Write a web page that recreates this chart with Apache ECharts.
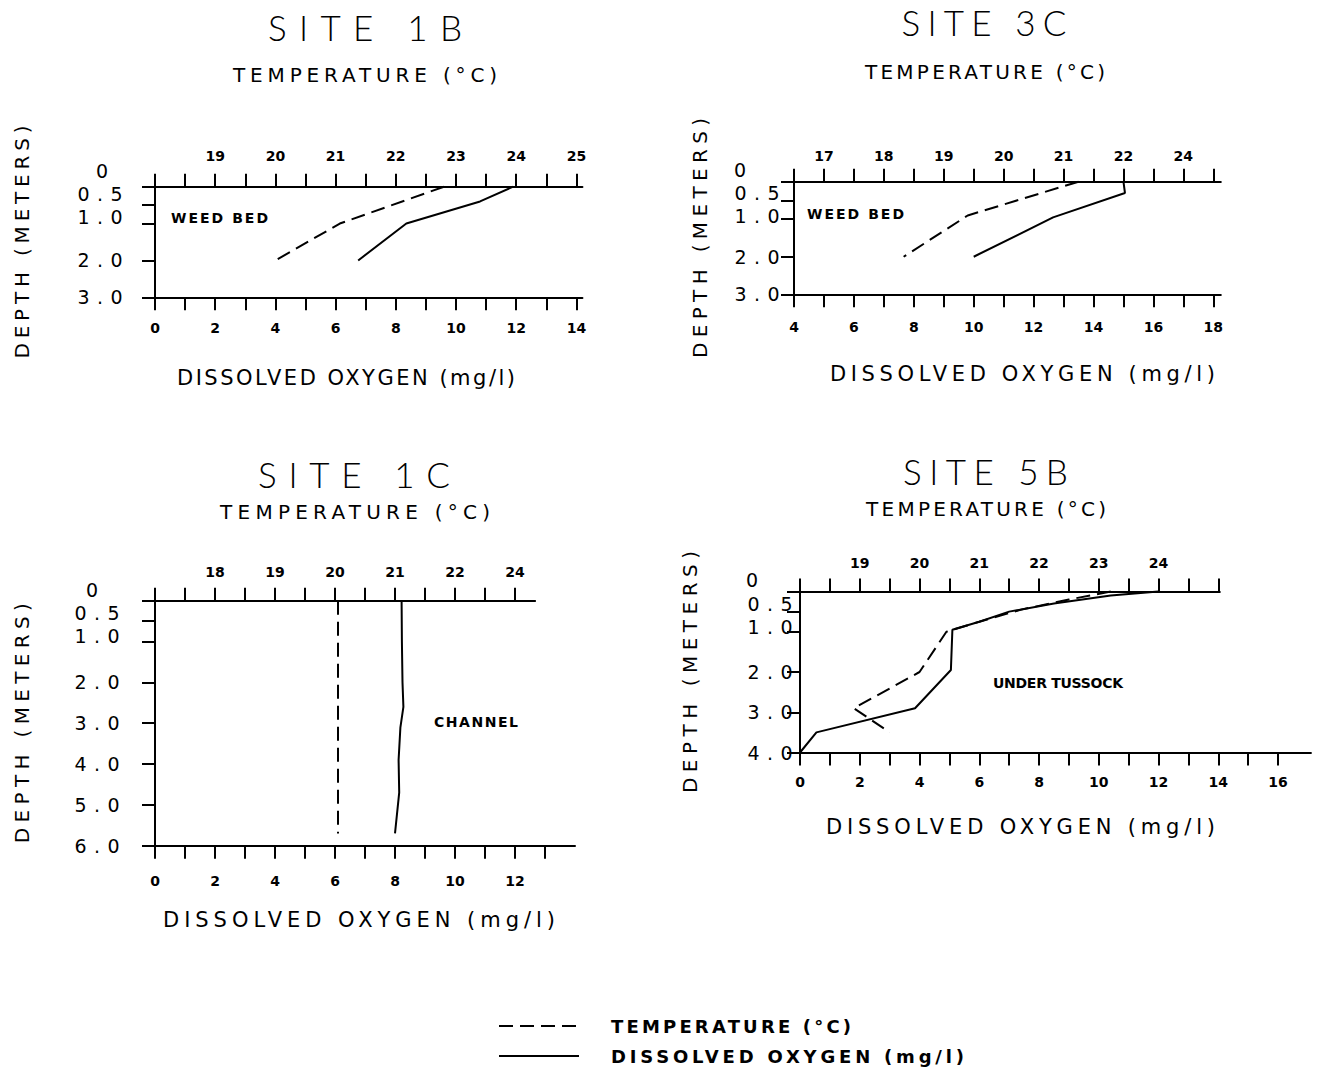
<!DOCTYPE html>
<html>
<head>
<meta charset="utf-8">
<title>Temperature and dissolved oxygen profiles</title>
<script src="https://cdn.jsdelivr.net/npm/echarts@6.0.0/dist/echarts.min.js"></script>
<style>
html,body{margin:0;padding:0;background:#ffffff;}
#chart{width:1319px;height:1078px;}
</style>
</head>
<body>
<div id="chart"></div>
<script>
// ================= DATA =================
// Site 1B
const site1B_tempDepth = [0, 1.0, 2.0];
const site1B_temp = [22.8, 21.07, 20.0];
const site1B_doDepth = [0, 0.4, 1.0, 2.0];
const site1B_do = [11.9, 10.8, 8.35, 6.75];
const site1B_tempTickValues = [19, 20, 21, 22, 23, 24, 25];
const site1B_tempTickLabels = ['19', '20', '21', '22', '23', '24', '25'];
const site1B_doTickLabels = [0, 2, 4, 6, 8, 10, 12, 14];
const site1B_depthTicks = [0, 0.5, 1, 2, 3];

// Site 3C
const site3C_tempDepth = [0, 0.9, 2.0];
const site3C_temp = [21.25, 19.4, 18.33];
const site3C_doDepth = [0, 0.3, 0.95, 2.0];
const site3C_do = [15.0, 15.05, 12.65, 10.0];
const site3C_tempTickValues = [17, 18, 19, 20, 21, 22, 23];
const site3C_tempTickLabels = ['17', '18', '19', '20', '21', '22', '24'];
const site3C_doTickLabels = [4, 6, 8, 10, 12, 14, 16, 18];
const site3C_depthTicks = [0, 0.5, 1, 2, 3];

// Site 1C
const site1C_tempDepth = [0, 5.7];
const site1C_temp = [20.05, 20.05];
const site1C_doDepth = [0, 1.0, 2.0, 2.6, 3.1, 3.9, 4.7, 5.7];
const site1C_do = [8.22, 8.23, 8.25, 8.28, 8.18, 8.12, 8.14, 8.0];
const site1C_tempTickValues = [18, 19, 20, 21, 22, 23];
const site1C_tempTickLabels = ['18', '19', '20', '21', '22', '24'];
const site1C_doTickLabels = [0, 2, 4, 6, 8, 10, 12];
const site1C_depthTicks = [0, 0.5, 1, 2, 3, 4, 5, 6];

// Site 5B
const site5B_tempDepth = [0, 0.2, 0.45, 0.75, 1.0, 2.0, 2.9, 3.5];
const site5B_temp = [23.2, 22.5, 21.7, 21.0, 20.45, 20.0, 18.9, 19.5];
const site5B_doDepth = [0, 0.1, 0.3, 0.5, 0.75, 0.95, 1.95, 2.9, 3.5, 4.0];
const site5B_do = [12.0, 10.4, 8.5, 7.0, 6.0, 5.1, 5.05, 3.85, 0.55, 0.0];
const site5B_tempTickValues = [19, 20, 21, 22, 23, 24];
const site5B_tempTickLabels = ['19', '20', '21', '22', '23', '24'];
const site5B_doTickLabels = [0, 2, 4, 6, 8, 10, 12, 14, 16];
const site5B_depthTicks = [0, 0.5, 1, 2, 3, 4];

const TEMP_NAME = 'TEMPERATURE (°C)';
const DO_NAME = 'DISSOLVED OXYGEN (mg/l)';
const DEPTH_NAME = 'DEPTH (METERS)';

// ================= LAYOUT (positions / sizes) =================
const layout1B = {left:155, top:186.7, height:110.6, ppu:30.1, doMin:0, doMaxTop:14.2, doMaxBottom:14.2, doTickMax:14,
  tempMin:18, tempTickMax:25, depthMax:3, yLabelMargin:55, lift:{z:15.7, zdx:2, h05:11, h10:6.6},
  topLabelMargin:23.7, bottomLabelMargin:23.7, depthNameGap:123, tempNameGap:101.7, tempNameShift:-3.7,
  doNameGap:69.7, doNameShift:-22.7, titleXY:[365,27], noteXY:[219.5,218],
  widths:{title:194, temp:264, dox:338, depth:233, note:97}};
const layout3C = {left:794, top:181.7, height:112.6, ppu:29.95, doMin:4, doMaxTop:18.25, doMaxBottom:18.25, doTickMax:18,
  tempMin:16.5, tempTickMax:23.5, depthMax:3, yLabelMargin:37, lift:{z:11.7, zdx:-17, h05:7.5, h10:3.2},
  topLabelMargin:18.7, bottomLabelMargin:25.7, depthNameGap:84, tempNameGap:99.7, tempNameShift:-22.4,
  doNameGap:68.7, doNameShift:15, titleXY:[984,22], noteXY:[855.5,214],
  widths:{title:165, temp:240, dox:385, depth:240, note:97}};
const layout1C = {left:155, top:600.7, height:245, ppu:30.0, doMin:0, doMaxTop:12.67, doMaxBottom:14.0, doTickMax:13,
  tempMin:17, tempTickMax:23, depthMax:6, yLabelMargin:58, lift:{z:10.7, zdx:-5, h05:8.1, h10:5.5},
  topLabelMargin:21.7, bottomLabelMargin:28.3, depthNameGap:123, tempNameGap:78.7, tempNameShift:10,
  doNameGap:63.3, doNameShift:-6, titleXY:[354,474], noteXY:[476,722],
  widths:{title:192, temp:270, dox:392, depth:240, note:84}};
const layout5B = {left:800, top:591.5, height:161, ppu:29.88, doMin:0, doMaxTop:14.05, doMaxBottom:17.1, doTickMax:16,
  tempMin:18, tempTickMax:25, depthMax:4, yLabelMargin:30, lift:{z:11.5, zdx:-18, h05:8.1, h10:4.75},
  topLabelMargin:21.5, bottomLabelMargin:22, depthNameGap:100, tempNameGap:72.5, tempNameShift:-23.9,
  doNameGap:63.5, doNameShift:-35, titleXY:[985.5,471], noteXY:[1058,683],
  widths:{title:165, temp:240, dox:389, depth:242, note:130}};

const panels = [
  {title:'SITE 1B', note:'WEED BED', tempDepth:site1B_tempDepth, temp:site1B_temp, doDepth:site1B_doDepth, dox:site1B_do,
   tempTickValues:site1B_tempTickValues, tempTickLabels:site1B_tempTickLabels, doTickLabels:site1B_doTickLabels, depthTicks:site1B_depthTicks, L:layout1B},
  {title:'SITE 3C', note:'WEED BED', tempDepth:site3C_tempDepth, temp:site3C_temp, doDepth:site3C_doDepth, dox:site3C_do,
   tempTickValues:site3C_tempTickValues, tempTickLabels:site3C_tempTickLabels, doTickLabels:site3C_doTickLabels, depthTicks:site3C_depthTicks, L:layout3C},
  {title:'SITE 1C', note:'CHANNEL', tempDepth:site1C_tempDepth, temp:site1C_temp, doDepth:site1C_doDepth, dox:site1C_do,
   tempTickValues:site1C_tempTickValues, tempTickLabels:site1C_tempTickLabels, doTickLabels:site1C_doTickLabels, depthTicks:site1C_depthTicks, L:layout1C},
  {title:'SITE 5B', note:'UNDER TUSSOCK', tempDepth:site5B_tempDepth, temp:site5B_temp, doDepth:site5B_doDepth, dox:site5B_do,
   tempTickValues:site5B_tempTickValues, tempTickLabels:site5B_tempTickLabels, doTickLabels:site5B_doTickLabels, depthTicks:site5B_depthTicks, L:layout5B}
];

const FONT = "'DejaVu Sans', 'Liberation Sans', sans-serif";
const TITLE_FONT = "Lato, 'DejaVu Sans', sans-serif";
const INK = '#000000';
const YLAB = 19;
const Y_PER_PANEL = 5;

function shiftPad(s) { return s >= 0 ? [0, 0, 0, 2 * s] : [0, -2 * s, 0, 0]; }
function depthText(v) { return v === 0 ? '0' : v.toFixed(1); }

const option = {
  animation: false,
  backgroundColor: '#ffffff',
  grid: [], xAxis: [], yAxis: [], series: [], graphic: [],
  legend: {
    orient: 'vertical', left: 498, top: 1017, padding: 0, itemGap: 12,
    itemWidth: 80, itemHeight: 19, selectedMode: false,
    data: [TEMP_NAME, DO_NAME],
    itemStyle: {opacity: 0},
    textStyle: {fontFamily: FONT, fontWeight: 'bold', fontSize: 18, color: INK, padding: [0, 0, 0, 27]}
  }
};

panels.forEach((p, i) => {
  const L = p.L;
  const gA = 2 * i, gB = 2 * i + 1;
  const wTop = (L.doMaxTop - L.doMin) * L.ppu;
  const wBot = (L.doMaxBottom - L.doMin) * L.ppu;
  option.grid.push({left: L.left, top: L.top, width: wTop, height: L.height, containLabel: false, outerBoundsMode: 'none'});
  option.grid.push({left: L.left, top: L.top, width: wBot, height: L.height, containLabel: false, outerBoundsMode: 'none'});

  const tempMax = L.tempMin + (L.doMaxTop - L.doMin) / 2;
  const topTicks = [];
  for (let k = 0; L.tempMin + k * 0.5 <= L.tempTickMax + 1e-9; k++) topTicks.push(L.tempMin + k * 0.5);
  const botTicks = [];
  for (let d = L.doMin; d <= L.doTickMax + 1e-9; d += 1) botTicks.push(d);

  const lineAx = {show: true, onZero: false, lineStyle: {color: INK, width: 2}};
  const tickSt = {color: INK, width: 2};

  // top temperature axis (grid A)
  option.xAxis.push({
    gridIndex: gA, type: 'value', position: 'top', min: L.tempMin, max: tempMax,
    name: TEMP_NAME, nameLocation: 'middle', nameGap: L.tempNameGap,
    nameTextStyle: {fontFamily: FONT, fontSize: 20, color: INK, padding: shiftPad(L.tempNameShift)},
    axisLine: lineAx,
    axisTick: {show: true, inside: false, length: 13, customValues: topTicks, lineStyle: tickSt},
    axisLabel: {show: true, customValues: p.tempTickValues, margin: L.topLabelMargin,
      showMinLabel: true, showMaxLabel: true,
      fontFamily: FONT, fontWeight: 'bold', fontSize: 14, color: INK,
      formatter: (v) => { const k = p.tempTickValues.indexOf(v); return k >= 0 ? p.tempTickLabels[k] : ''; }},
    splitLine: {show: false}
  });
  // hidden DO axis for grid A (same scale as the visible bottom axis)
  option.xAxis.push({gridIndex: gA, type: 'value', position: 'bottom', min: L.doMin, max: L.doMaxTop, show: false,
    axisLine: {onZero: false}, splitLine: {show: false}});
  // visible bottom DO axis (grid B)
  option.xAxis.push({
    gridIndex: gB, type: 'value', position: 'bottom', min: L.doMin, max: L.doMaxBottom,
    name: DO_NAME, nameLocation: 'middle', nameGap: L.doNameGap,
    nameTextStyle: {fontFamily: FONT, fontSize: 21, color: INK, padding: shiftPad(L.doNameShift)},
    axisLine: lineAx,
    axisTick: {show: true, inside: false, length: 13, customValues: botTicks, lineStyle: tickSt},
    axisLabel: {show: true, customValues: p.doTickLabels, margin: L.bottomLabelMargin,
      showMinLabel: true, showMaxLabel: true,
      fontFamily: FONT, fontWeight: 'bold', fontSize: 14, color: INK, formatter: (v) => String(v)},
    splitLine: {show: false}
  });

  // depth axis: line, ticks and the evenly placed labels
  const mainLabels = p.depthTicks.filter((v) => v > 1);
  option.yAxis.push({
    gridIndex: gA, type: 'value', position: 'left', inverse: true, min: 0, max: L.depthMax,
    name: DEPTH_NAME, nameLocation: 'middle', nameRotate: 90, nameGap: L.depthNameGap,
    nameTextStyle: {fontFamily: FONT, fontSize: 20, color: INK},
    axisLine: lineAx,
    axisTick: {show: true, inside: false, length: 13, customValues: p.depthTicks, lineStyle: tickSt},
    axisLabel: {show: true, customValues: mainLabels, margin: L.yLabelMargin, align: 'center',
      showMinLabel: true, showMaxLabel: true,
      fontFamily: FONT, fontSize: YLAB, lineHeight: YLAB, color: INK, formatter: (v) => depthText(v)},
    splitLine: {show: false}
  });
  // the crowded labels near the surface (0, 0.5, 1.0) sit a little higher, as in the figure
  const lifted = [[0, L.lift.z, L.lift.zdx], [0.5, L.lift.h05, 0], [1, L.lift.h10, 0]];
  lifted.forEach(([v, dy, dx]) => {
    option.yAxis.push({
      gridIndex: gA, type: 'value', position: 'left', inverse: true, min: 0, max: L.depthMax,
      axisLine: {show: false, onZero: false}, axisTick: {show: false}, splitLine: {show: false},
      axisLabel: {show: true, customValues: [v], margin: L.yLabelMargin - dx, align: 'center',
        showMinLabel: true, showMaxLabel: true,
        fontFamily: FONT, fontSize: YLAB, lineHeight: YLAB, color: INK,
        formatter: (val) => '{t|' + depthText(val) + '}\n{g|\u00a0}',
        rich: {
          t: {fontFamily: FONT, fontSize: YLAB, lineHeight: YLAB, color: INK},
          g: {fontFamily: FONT, fontSize: 1, lineHeight: 2 * dy, color: 'rgba(0,0,0,0)'}
        }}
    });
  });
  option.yAxis.push({gridIndex: gB, type: 'value', inverse: true, min: 0, max: L.depthMax, show: false,
    axisLine: {onZero: false}, splitLine: {show: false}});

  option.series.push({
    name: TEMP_NAME, type: 'line', xAxisIndex: 3 * i, yAxisIndex: Y_PER_PANEL * i,
    data: p.temp.map((t, k) => [t, p.tempDepth[k]]),
    symbol: 'none', clip: false, silent: true,
    lineStyle: {color: INK, width: 2, type: [14, 7]}, itemStyle: {color: INK}
  });
  option.series.push({
    name: DO_NAME, type: 'line', xAxisIndex: 3 * i + 1, yAxisIndex: Y_PER_PANEL * i,
    data: p.dox.map((d, k) => [d, p.doDepth[k]]),
    symbol: 'none', clip: false, silent: true,
    lineStyle: {color: INK, width: 2, type: 'solid'}, itemStyle: {color: INK}
  });

  option.graphic.push({type: 'text', x: L.titleXY[0], y: L.titleXY[1], silent: true,
    style: {text: p.title, font: '300 35px ' + TITLE_FONT, fill: INK, align: 'center', verticalAlign: 'middle',
      textAlign: 'center', textVerticalAlign: 'middle'}});
  option.graphic.push({type: 'text', x: L.noteXY[0], y: L.noteXY[1], silent: true,
    style: {text: p.note, font: 'bold 14px ' + FONT, fill: INK, align: 'center', verticalAlign: 'middle',
      textAlign: 'center', textVerticalAlign: 'middle'}});
});

const chart = echarts.init(document.getElementById('chart'), null, {renderer: 'svg', width: 1319, height: 1078});
chart.setOption(option);

// ---- widen plotter-style lettering to the spacing seen in the figure ----
const legendWidths = {};
legendWidths[TEMP_NAME] = 240;
legendWidths[DO_NAME] = 353;
function targetWidth(txt, cx, cy) {
  if (cy > 990) return legendWidths[txt];
  const idx = cx < 660 ? (cy < 430 ? 0 : 2) : (cy < 430 ? 1 : 3);
  const p = panels[idx], w = p.L.widths;
  if (txt === p.title) return w.title;
  if (txt === TEMP_NAME) return w.temp;
  if (txt === DO_NAME) return w.dox;
  if (txt === DEPTH_NAME) return w.depth;
  if (txt === p.note) return w.note;
  if (/^\d\.\d$/.test(txt)) return 45;
  return null;
}
function applySpacing() {
  const root = document.getElementById('chart');
  root.querySelectorAll('svg text').forEach((el) => {
    const txt = el.textContent;
    if (!txt || txt.trim().length < 2) return;
    if (!el.hasAttribute('data-x0')) el.setAttribute('data-x0', el.getAttribute('x') || '0');
    el.style.letterSpacing = '0px';
    el.setAttribute('x', el.getAttribute('data-x0'));
    const r = el.getBoundingClientRect();
    const target = targetWidth(txt, r.left + r.width / 2, r.top + r.height / 2);
    if (!target) return;
    const n = Array.from(txt).length;
    const len = el.getComputedTextLength();
    const ls = (target - len) / (n - 1);
    el.style.letterSpacing = ls.toFixed(2) + 'px';
    const anchor = getComputedStyle(el).textAnchor || el.getAttribute('text-anchor') || 'start';
    const sh = anchor === 'middle' ? ls / 2 : (anchor === 'end' ? ls : 0);
    el.setAttribute('x', (parseFloat(el.getAttribute('data-x0')) + sh).toFixed(2));
  });
}
applySpacing();
chart.on('finished', applySpacing);
</script>
</body>
</html>
